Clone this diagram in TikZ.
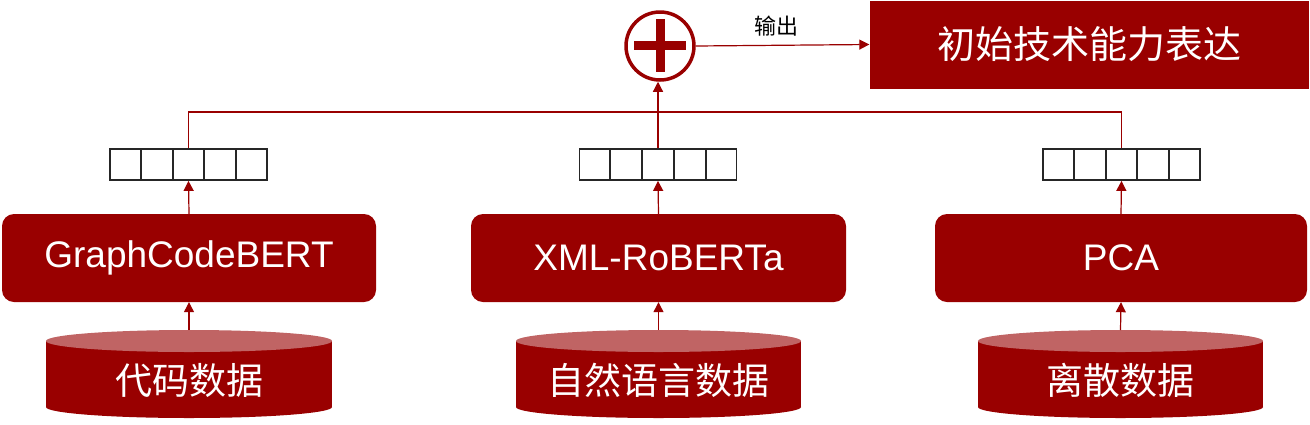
\documentclass[tikz,border=0pt]{standalone}
\usepackage{fontspec}
\setmainfont{Liberation Sans}
\newfontfamily\cjk{Noto Sans CJK SC}
\usetikzlibrary{arrows.meta,calc}
\definecolor{dred}{HTML}{990000}
\definecolor{lred}{HTML}{C06464}
\tikzset{
  conn/.style={draw=dred, line width=1.2pt},
  arr/.style={conn, -{Triangle[width=10pt,length=10pt]}},
  modelbox/.style={fill=dred, rounded corners=12pt, minimum width=374pt, minimum height=88pt, inner sep=0pt, text=white, font=\fontsize{37}{40}\selectfont},
  vecbox/.style={draw=black!85, line width=1.8pt, minimum width=157pt, minimum height=31pt, inner sep=0pt},
  cyltext/.style={minimum width=286pt, minimum height=88pt, inner sep=0pt, text=white, font=\cjk\fontsize{37}{40}\selectfont, yshift=-6pt},
}
\newcommand{\drawcyl}[2]{% center x, half width
  \fill[dred] (#1-#2,341) rectangle (#1+#2,407);
  \fill[dred] (#1,407) ellipse [x radius=#2, y radius=11];
  \fill[lred] (#1,341) ellipse [x radius=#2, y radius=11];
}
\begin{document}
\begin{tikzpicture}[x=1pt,y=-1pt]
\useasboundingbox (0,0) rectangle (1310,424);
% cylinders
\drawcyl{189}{143}
\drawcyl{658.5}{142.5}
\drawcyl{1120.5}{142.5}
\node[cyltext] (c1) at (189,374) {代码数据};
\node[cyltext] (c2) at (658.5,374) {自然语言数据};
\node[cyltext] (c3) at (1120.5,374) {离散数据};
% models
\node[modelbox] (m1) at (189,258) {GraphCodeBERT};
\node[modelbox, minimum width=375pt] (m2) at (658.5,258) {XML-RoBERTa};
\node[modelbox, minimum width=372pt] (m3) at (1121,258) {PCA};
% vectors
\foreach \i/\x in {1/188.5,2/658,3/1121.5}{
  \node[vecbox] (v\i) at (\x,164.5) {};
  \foreach \k in {1,2,3,4}{
    \draw[black!85, line width=1.8pt] ($(v\i.north west)!\k/5!(v\i.north east)$) -- ($(v\i.south west)!\k/5!(v\i.south east)$);
  }
}
% plus
\node[draw=dred, line width=3.5pt, circle, minimum size=68pt, inner sep=0pt] (plus) at (660,46) {};
\fill[dred] (634,41) rectangle (686,50);
\fill[dred] (655.5,19) rectangle (664.5,72);
% output box
\node[fill=dred, minimum width=439pt, minimum height=88pt, inner sep=0pt, text=white, font=\cjk\fontsize{38}{40}\selectfont] (out) at (1089,44.5) {初始技术能力表达};
% connectors
\draw[arr] (c1.north |- 0,330) -- (m1.south);
\draw[arr] (c2.north |- 0,330) -- (m2.south);
\draw[arr] (c3.north |- 0,330) -- (m3.south);
\draw[arr] (m1.north) -- (v1.south);
\draw[arr] (m2.north) -- (v2.south);
\draw[arr] (m3.north) -- (v3.south);
\coordinate (bus) at (0,112);
\draw[conn] (v1.north) -- (v1.north |- bus) -- (v3.north |- bus) -- (v3.north);
\draw[arr] (v2.north) -- (v2.north |- plus.south);
\draw[arr] (plus.east) -- node[above=5pt, text=black, font=\cjk\fontsize{22}{24}\selectfont, xshift=-6pt] {输出} (out.west);
\end{tikzpicture}
\end{document}
